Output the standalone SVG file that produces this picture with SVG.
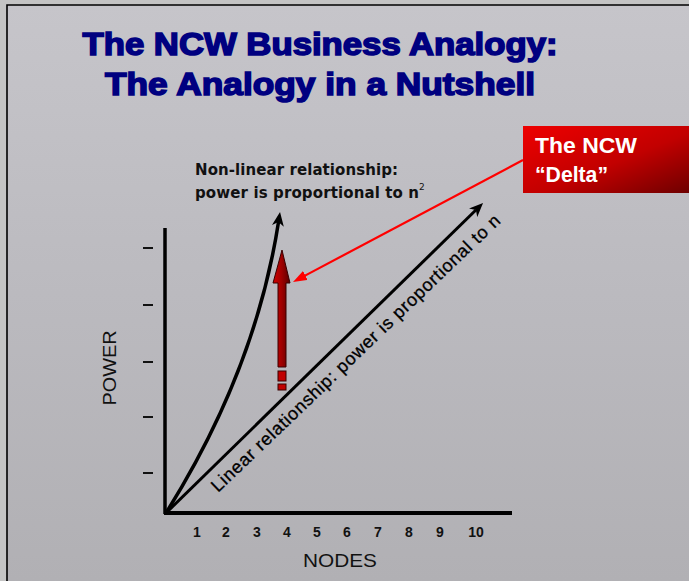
<svg xmlns="http://www.w3.org/2000/svg" width="689" height="581" viewBox="0 0 689 581">
<defs>
<linearGradient id="bg" x1="0" y1="0" x2="0" y2="1">
<stop offset="0" stop-color="#c6c5ca"/>
<stop offset="0.5" stop-color="#bbbabf"/>
<stop offset="1" stop-color="#b1b0b4"/>
</linearGradient>
<linearGradient id="boxg" x1="0" y1="0" x2="1" y2="1">
<stop offset="0" stop-color="#ee0000"/>
<stop offset="0.55" stop-color="#c20000"/>
<stop offset="1" stop-color="#6e0000"/>
</linearGradient>
<linearGradient id="deltag" x1="0" y1="0" x2="1" y2="0">
<stop offset="0" stop-color="#d00000"/>
<stop offset="0.5" stop-color="#a00000"/>
<stop offset="1" stop-color="#5a0000"/>
</linearGradient>
<marker id="blk" viewBox="0 -6 14 12" refX="4" refY="0" markerUnits="userSpaceOnUse" markerWidth="14" markerHeight="12" orient="auto">
<path d="M0,-6 L14,0 L0,6 L4,0 z" fill="#000"/>
</marker>
<marker id="red" viewBox="0 -5 14 10" refX="2" refY="0" markerUnits="userSpaceOnUse" markerWidth="14" markerHeight="10" orient="auto">
<path d="M0,-5 L14,0 L0,5 z" fill="#ff0000"/>
</marker>
<style>
.title{font-family:"Liberation Sans",Arial,sans-serif;font-weight:bold;font-size:32px;fill:#000080;stroke:#000080;stroke-width:1.6px;text-anchor:middle}
.lbl{font-family:"DejaVu Sans",Verdana,sans-serif;font-weight:bold;font-size:15px;fill:#111}
.num{font-family:"Liberation Sans",Arial,sans-serif;font-weight:bold;font-size:14px;fill:#111;text-anchor:middle}
.axis{font-family:"Liberation Sans",Arial,sans-serif;font-size:19px;fill:#111;text-anchor:middle}
.box{font-family:"Liberation Sans",Arial,sans-serif;font-weight:bold;font-size:22px;fill:#fff}
.lin{font-family:"Liberation Sans",Arial,sans-serif;font-size:18px;fill:#000;stroke:#000;stroke-width:0.3px}
.tick{stroke:#111;stroke-width:2}
</style>
</defs>
<rect x="0" y="0" width="689" height="581" fill="#c4c4c4"/>
<rect x="7" y="5" width="682" height="576" fill="url(#bg)"/>
<path d="M7,581 V5 H689" fill="none" stroke="#000" stroke-width="1.6"/>

<g id="title">
<text class="title" x="320" y="55" textLength="475" lengthAdjust="spacingAndGlyphs">The NCW Business Analogy:</text>
<text class="title" x="320" y="95" textLength="430" lengthAdjust="spacingAndGlyphs">The Analogy in a Nutshell</text>
</g>

<g id="axes">
<line x1="165" y1="228" x2="165" y2="514" stroke="#000" stroke-width="3.5"/>
<line x1="164" y1="513" x2="512" y2="513" stroke="#000" stroke-width="4"/>
<line class="tick" x1="143" y1="248" x2="153" y2="248"/>
<line class="tick" x1="143" y1="305" x2="153" y2="305"/>
<line class="tick" x1="143" y1="362" x2="153" y2="362"/>
<line class="tick" x1="143" y1="417" x2="153" y2="417"/>
<line class="tick" x1="143" y1="473" x2="153" y2="473"/>
<text class="num" x="197" y="537">1</text>
<text class="num" x="226" y="537">2</text>
<text class="num" x="257" y="537">3</text>
<text class="num" x="287" y="537">4</text>
<text class="num" x="317" y="537">5</text>
<text class="num" x="347" y="537">6</text>
<text class="num" x="378" y="537">7</text>
<text class="num" x="409" y="537">8</text>
<text class="num" x="440" y="537">9</text>
<text class="num" x="476" y="537">10</text>
<text class="axis" x="340" y="567" textLength="74" lengthAdjust="spacingAndGlyphs">NODES</text>
<text class="axis" transform="translate(116,368) rotate(-90)" textLength="75" lengthAdjust="spacingAndGlyphs">POWER</text>
</g>

<g id="connectors">
<path id="nonlinear" d="M166,513 C215,435 261,335 278.5,222" fill="none" stroke="#000" stroke-width="3.5" marker-end="url(#blk)"/>
<path id="linear" d="M166,513 L475.9,210" fill="none" stroke="#000" stroke-width="3" marker-end="url(#blk)"/>
<path id="deltapointer" d="M523,160 L303.6,276.4" fill="none" stroke="#ff0000" stroke-width="2.2" marker-end="url(#red)"/>
</g>

<g id="nonlinear-label">
<text class="lbl" x="195" y="175" textLength="203">Non-linear relationship:</text>
<text class="lbl" x="195" y="198" textLength="224">power is proportional to n</text>
<text class="lbl" x="419" y="190" style="font-size:9px;font-weight:normal">2</text>
</g>

<g id="linear-label">
<text class="lin" transform="translate(218,493) rotate(-43.7)" textLength="392">Linear relationship: power is proportional to n</text>
</g>

<g id="delta-arrow">
<path d="M282,250 L290,283 L286,283 L286,367 L278,367 L278,283 L273,283 z" fill="url(#deltag)" stroke="#3a0000" stroke-width="1"/>
<rect x="278" y="371" width="8" height="10" fill="#c00000" stroke="#3a0000" stroke-width="1"/>
<rect x="278" y="384" width="8" height="6" fill="#c00000" stroke="#3a0000" stroke-width="1"/>
</g>

<g id="delta-box">
<rect x="523" y="126" width="166" height="67" fill="url(#boxg)"/>
<text class="box" x="535" y="153" textLength="102" lengthAdjust="spacingAndGlyphs">The NCW</text>
<text class="box" x="535" y="182" textLength="73" lengthAdjust="spacingAndGlyphs">“Delta”</text>
</g>
</svg>
